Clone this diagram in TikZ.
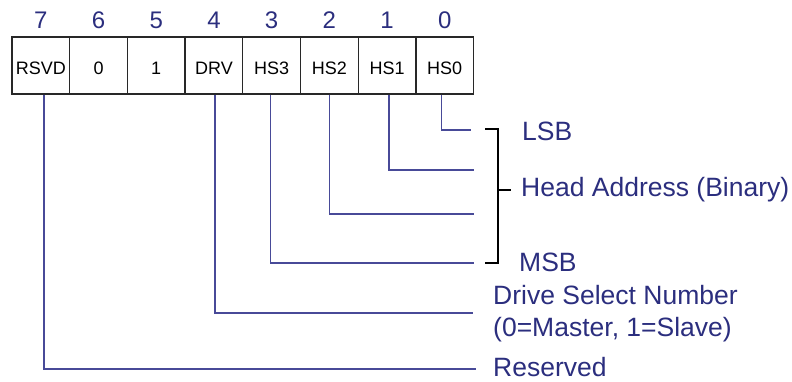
\documentclass[tikz,border=0pt]{standalone}
\usepackage{fontspec}
\setmainfont{Liberation Sans}
\usetikzlibrary{positioning,calc}

\definecolor{bitblue}{RGB}{43,46,126}
\definecolor{leadblue}{RGB}{72,74,152}
\definecolor{boxgray}{RGB}{40,40,40}

\tikzset{
  bitbox/.style = {draw=boxgray, line width=1.3pt, minimum width=57.7pt, minimum height=57pt,
                   inner sep=0pt, text height=18pt, text depth=0pt, font=\fontsize{18}{20}\selectfont},
  bitnum/.style = {inner sep=0pt, text=bitblue, font=\fontsize{24}{26}\selectfont},
  fieldtxt/.style = {inner sep=0pt, anchor=west, text=bitblue, align=left,
                     font=\fontsize{26.5}{32}\selectfont},
  lead/.style = {draw=leadblue, line width=1.3pt},
  brack/.style = {draw=black, line width=1.2pt}
}

\begin{document}
\begin{tikzpicture}[x=1pt, y=-1pt]
    \useasboundingbox (0,0) rectangle (792,381);

%register boxes with bit numbers
\foreach \i/\txt in {7/RSVD, 6/0, 5/1, 4/DRV, 3/HS3, 2/HS2, 1/HS1, 0/HS0} {
    \node[bitbox] (b\i) at ({12 + 57.7*(7-\i) + 28.85}, 65.5) {\txt};
    \node[bitnum, above=7.5pt of b\i] (n\i) {\i};
}

%field descriptions
\node[fieldtxt] (lsb) at (522,131) {LSB};
\node[fieldtxt] (head) at (521,190) {Head Address (Binary)};
\node[fieldtxt] (msb) at (519,262) {MSB};
\node[fieldtxt] (drv) at (493,314) {Drive Select Number\\(0=Master, 1=Slave)};
\node[fieldtxt] (rsvd) at (493,367) {Reserved};

%free ends of the leads
\coordinate (e0) at (471,130);
\coordinate (e1) at (474,170);
\coordinate (e2) at (474,214);
\coordinate (e3) at (474,263);
\coordinate (e4) at (473,313);
\coordinate (e7) at (476,369);

%leads from the bits
\foreach \i/\dx in {0/-3, 1/2, 2/0, 3/-1, 4/1, 7/3} {
    \draw[lead] ($(b\i.south)+(\dx,0)$) |- (e\i);
}

%bracket for the head address
\coordinate (bt) at (498,129);
\coordinate (bb) at (498,263);
\draw[brack] ($(bt)+(-13,0)$) -- (bt) -- (bb) -- ++(-13,0);
\draw[brack] (bt |- head.west) -- ++(13,0);

\end{tikzpicture}
\end{document}
